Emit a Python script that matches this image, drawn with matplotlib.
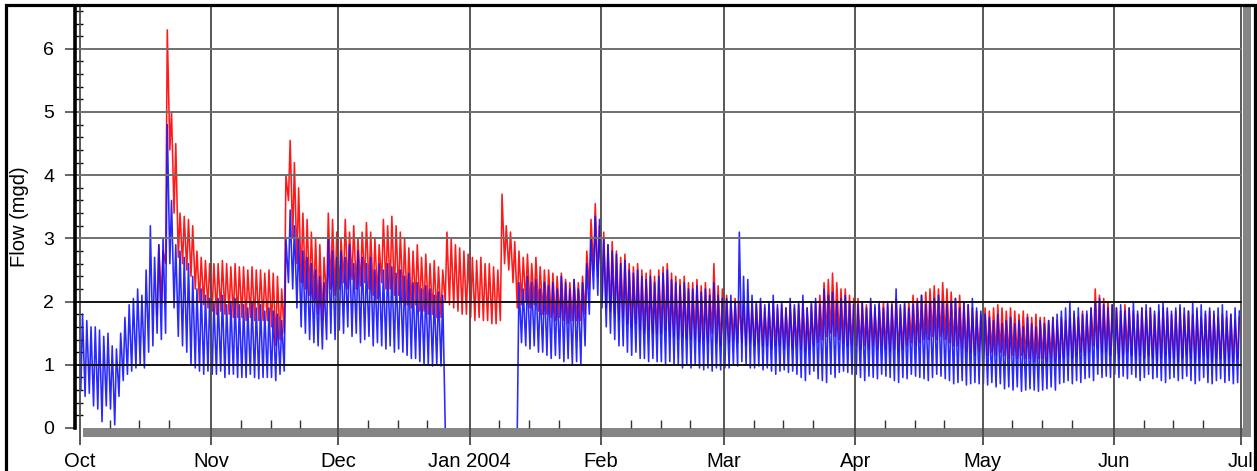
import numpy as np
import matplotlib
matplotlib.use("Agg")
import matplotlib.pyplot as plt
from matplotlib.patches import Rectangle
from matplotlib.ticker import MultipleLocator, FixedLocator

nan = np.nan

# ---------------- data (daily low / high of the hourly flow, mgd) ----------------
month_labels = ["Oct", "Nov", "Dec", "Jan 2004", "Feb", "Mar", "Apr", "May", "Jun", "Jul"]
month_lengths = [31, 30, 31, 31, 29, 31, 30, 31, 30]
minor_tick_days = [8, 15, 22]
y_ticks = [0, 1, 2, 3, 4, 5, 6]

# blue series
blue_high_oct = [1.8, 1.7, 1.6, 1.6, 1.55, 1.45, 1.5, 1.3, 1.25, 1.5, 1.75, 1.95, 2.05, 2.2, 2.1, 2.5,
                 3.2, 2.7, 2.9, 3.0, 4.8, 3.6, 2.9, 2.8, 2.7, 2.6, 2.4, 2.2, 2.2, 2.1, 2.05]
blue_low_oct = [0.6, 0.5, 0.55, 0.35, 0.3, 0.1, 0.35, 0.3, 0.05, 0.5, 0.75, 0.85, 0.9, 0.95, 1.0, 0.95,
                1.2, 1.3, 1.5, 1.4, 1.5, 2.6, 1.9, 1.45, 1.3, 1.2, 1.0, 0.95, 0.9, 0.85, 0.9]
blue_high_nov = [2.0, 2.05, 2.1, 1.95, 2.0, 2.05, 1.95, 1.95, 1.9, 2.0, 1.9, 1.95, 1.85, 1.9, 1.85, 1.8,
                 1.7, 3.0, 3.45, 3.2, 3.0, 2.8, 2.7, 2.6, 2.5, 2.4, 2.3, 3.0, 2.8, 2.7]
blue_low_nov = [0.85, 0.85, 0.9, 0.8, 0.85, 0.85, 0.8, 0.8, 0.8, 0.85, 0.8, 0.78, 0.8, 0.8, 0.8, 0.75,
                0.85, 0.9, 2.3, 2.2, 1.9, 1.6, 1.5, 1.4, 1.35, 1.3, 1.25, 1.4, 1.5, 1.4]
blue_high_dec = [2.8, 2.7, 2.9, 2.6, 2.8, 2.7, 2.6, 2.7, 2.5, 2.6, 2.5, 2.6, 2.55, 2.45, 2.5, 2.4,
                 2.45, 2.3, 2.3, 2.2, 2.25, 2.2, 2.1, 2.15, 2.1, nan, nan, nan, nan, nan, nan]
blue_low_dec = [1.55, 1.5, 1.6, 1.45, 1.5, 1.35, 1.4, 1.45, 1.3, 1.35, 1.3, 1.25, 1.3, 1.2, 1.25, 1.2,
                1.15, 1.1, 1.1, 1.05, 1.0, 1.0, 0.98, 1.0, 0.98, 0.0, nan, nan, nan, nan, nan]
blue_high_jan = [nan, nan, nan, nan, nan, nan, nan, nan, nan, nan, nan, 2.3, 2.2, 2.4, 2.3, 2.35,
                 2.2, 2.3, 2.25, 2.3, 2.2, 2.4, 2.3, 2.2, 2.35, 2.2, 2.3, 2.6, 3.0, 3.35, 3.3]
blue_low_jan = [nan, nan, nan, nan, nan, nan, nan, nan, nan, nan, nan, 0.0, 1.35, 1.3, 1.25, 1.3,
                1.2, 1.2, 1.15, 1.1, 1.15, 1.1, 1.05, 1.1, 1.0, 1.05, 1.0, 1.3, 1.8, 2.2, 2.1]
blue_high_feb = [3.0, 2.9, 2.8, 2.75, 2.6, 2.65, 2.5, 2.45, 2.5, 2.4, 2.35, 2.4, 2.3, 2.4, 2.45,
                 2.5, 2.35, 2.3, 2.25, 2.3, 2.2, 2.2, 2.25, 2.15, 2.2, 2.1, 2.3, 2.1, 2.05]
blue_low_feb = [1.9, 1.6, 1.5, 1.4, 1.3, 1.3, 1.2, 1.15, 1.2, 1.1, 1.1, 1.05, 1.1, 1.05, 1.05,
                1.0, 1.05, 1.0, 1.0, 0.95, 1.0, 0.95, 1.0, 0.95, 0.92, 0.95, 0.9, 0.95, 0.92]
blue_high_mar = [2.05, 2.1, 2.0, 3.1, 2.4, 2.35, 2.1, 2.0, 2.05, 1.95, 2.0, 2.1, 1.95, 2.0, 1.9, 2.05,
                 1.95, 2.0, 2.1, 1.9, 2.0, 2.05, 1.95, 2.2, 2.1, 2.15, 2.0, 2.05, 2.1, 2.0, 1.95]
blue_low_mar = [0.95, 0.95, 1.0, 0.98, 1.05, 1.0, 0.95, 0.95, 0.98, 0.92, 0.95, 0.9, 0.85, 0.9, 0.92,
                0.88, 0.9, 0.85, 0.8, 0.75, 0.85, 0.9, 0.78, 0.75, 0.72, 0.85, 0.8, 0.88, 0.9, 0.88, 0.85]
blue_high_apr = [1.95, 2.0, 1.9, 2.05, 1.95, 2.0, 1.9, 2.0, 1.95, 2.2, 1.95, 2.0, 1.9, 1.95, 2.0,
                 2.1, 1.95, 2.0, 2.05, 2.1, 2.0, 1.95, 2.0, 2.05, 1.9, 2.0, 1.95, 2.05, 1.9, 1.85]
blue_low_apr = [0.85, 0.8, 0.75, 0.82, 0.8, 0.78, 0.85, 0.82, 0.8, 0.75, 0.72, 0.8, 0.78, 0.85, 0.82,
                0.8, 0.78, 0.75, 0.8, 0.85, 0.82, 0.78, 0.75, 0.7, 0.72, 0.75, 0.68, 0.7, 0.72, 0.7]
blue_high_may = [1.8, 1.75, 1.7, 1.8, 1.65, 1.7, 1.75, 1.65, 1.7, 1.6, 1.75, 1.65, 1.6, 1.7, 1.65, 1.7,
                 1.75, 1.8, 1.85, 1.9, 2.0, 1.85, 1.9, 1.8, 1.85, 1.9, 2.0, 2.05, 1.95, 1.9, 1.95]
blue_low_may = [0.7, 0.68, 0.72, 0.65, 0.7, 0.62, 0.65, 0.6, 0.65, 0.58, 0.6, 0.62, 0.6, 0.58, 0.6,
                0.62, 0.65, 0.6, 0.7, 0.72, 0.75, 0.7, 0.75, 0.72, 0.78, 0.8, 0.75, 0.85, 0.8, 0.82, 0.8]
blue_high_jun = [1.9, 1.95, 1.85, 1.9, 2.0, 1.85, 1.9, 1.95, 1.9, 1.85, 1.95, 2.0, 1.9, 1.85, 1.9,
                 1.95, 1.9, 1.85, 2.0, 1.9, 1.95, 1.85, 1.9, 1.85, 1.9, 1.95, 1.85, 1.8, 1.9, 1.85]
blue_low_jun = [0.85, 0.8, 0.82, 0.78, 0.85, 0.8, 0.75, 0.8, 0.85, 0.78, 0.8, 0.75, 0.72, 0.78, 0.8,
                0.75, 0.78, 0.82, 0.75, 0.7, 0.75, 0.8, 0.72, 0.7, 0.75, 0.78, 0.72, 0.75, 0.7, 0.72]

# red series
red_high_oct = [nan] * 18 + [2.9, 2.8, 6.3, 5.0, 4.5, 3.4, 3.35, 3.3, 3.2, 2.8, 2.7, 2.65, 2.6]
red_low_oct = [nan] * 18 + [1.8, 2.0, 2.6, 4.4, 3.4, 2.7, 2.6, 2.5, 2.4, 2.2, 2.0, 1.95, 1.9]
red_high_nov = [2.6, 2.6, 2.65, 2.6, 2.55, 2.6, 2.55, 2.55, 2.5, 2.55, 2.5, 2.5, 2.45, 2.5, 2.45, 2.4,
                2.2, 4.0, 4.55, 4.2, 3.8, 3.4, 3.3, 3.1, 3.0, 2.9, 2.7, 3.4, 3.3, 3.1]
red_low_nov = [1.85, 1.8, 1.85, 1.8, 1.8, 1.75, 1.75, 1.75, 1.7, 1.75, 1.7, 1.7, 1.7, 1.7, 1.6, 1.3,
               1.4, 1.5, 3.6, 3.0, 2.6, 2.3, 2.2, 2.1, 2.0, 1.8, 1.7, 2.0, 2.2, 2.1]
red_high_dec = [3.0, 3.3, 3.1, 3.2, 3.0, 3.1, 3.25, 3.1, 3.0, 2.9, 3.3, 3.2, 3.35, 3.2, 3.1, 3.0,
                2.85, 2.8, 2.9, 2.7, 2.75, 2.6, 2.65, 2.55, 2.5, 3.1, 3.0, 2.9, 2.85, 2.8, 2.75]
red_low_dec = [2.2, 2.3, 2.2, 2.35, 2.2, 2.25, 2.3, 2.2, 2.1, 2.05, 2.3, 2.2, 2.2, 2.1, 2.1, 2.0,
               1.95, 1.9, 1.95, 1.85, 1.85, 1.8, 1.8, 1.75, 1.75, 2.0, 1.95, 1.9, 1.85, 1.8, 1.8]
red_high_jan = [2.7, 2.65, 2.7, 2.6, 2.6, 2.55, 2.5, 3.7, 3.2, 3.1, 2.95, 2.8, 2.7, 2.75, 2.6, 2.7,
                2.55, 2.5, 2.5, 2.45, 2.4, 2.45, 2.35, 2.3, 2.35, 2.3, 2.4, 2.8, 3.3, 3.55, 3.2]
red_low_jan = [1.75, 1.7, 1.75, 1.7, 1.7, 1.65, 1.65, 1.7, 2.6, 2.5, 2.3, 1.9, 1.95, 2.0, 1.9, 1.95,
               1.85, 1.8, 1.8, 1.75, 1.7, 1.75, 1.7, 1.65, 1.7, 1.7, 1.7, 1.8, 2.2, 2.5, 2.4]
red_high_feb = [3.1, 2.9, 2.95, 2.8, 2.7, 2.75, 2.6, 2.55, 2.6, 2.5, 2.45, 2.5, 2.4, 2.5, 2.55,
                2.6, 2.45, 2.4, 2.35, 2.4, 2.3, 2.3, 2.35, 2.25, 2.3, 2.2, 2.6, 2.25, 2.2]
red_low_feb = [2.0, 1.9, 1.85, 1.8, 1.7, 1.75, 1.65, 1.6, 1.65, 1.55, 1.5, 1.55, 1.5, 1.5, 1.5,
               1.55, 1.45, 1.45, 1.4, 1.45, 1.4, 1.4, 1.4, 1.35, 1.4, 1.35, 1.5, 1.35, 1.3]
red_high_mar = [2.1, 2.0, 2.05, 2.0, 1.95, 2.0, 1.95, 1.95, 2.0, 1.9, 1.95, 2.0, 1.9, 1.95, 1.9, 1.95,
                1.9, 1.95, 2.0, 1.9, 1.95, 2.0, 2.1, 2.3, 2.35, 2.45, 2.3, 2.2, 2.2, 2.1, 2.05]
red_low_mar = [1.4, 1.35, 1.4, 1.35, 1.35, 1.3, 1.35, 1.3, 1.35, 1.3, 1.3, 1.25, 1.3, 1.3, 1.25, 1.3,
               1.25, 1.3, 1.25, 1.2, 1.25, 1.3, 1.35, 1.4, 1.45, 1.5, 1.45, 1.4, 1.35, 1.3, 1.3]
red_high_apr = [2.05, 2.0, 1.95, 2.0, 1.9, 1.95, 2.0, 1.95, 2.0, 2.05, 1.9, 1.95, 2.0, 2.1, 2.05,
                2.1, 2.15, 2.2, 2.25, 2.2, 2.3, 2.2, 2.15, 2.05, 2.1, 2.0, 1.95, 1.9, 1.85, 1.8]
red_low_apr = [1.3, 1.25, 1.3, 1.25, 1.3, 1.25, 1.3, 1.25, 1.2, 1.25, 1.2, 1.25, 1.3, 1.35, 1.3,
               1.35, 1.4, 1.4, 1.45, 1.4, 1.45, 1.4, 1.35, 1.3, 1.3, 1.25, 1.2, 1.2, 1.15, 1.2]
red_high_may = [1.9, 1.85, 1.9, 1.95, 1.9, 1.85, 1.9, 1.85, 1.8, 1.85, 1.8, 1.75, 1.8, 1.75, 1.75, 1.7,
                1.75, 1.7, 1.75, 1.7, 1.75, 1.8, 1.75, 1.85, 1.8, 1.9, 2.2, 2.1, 2.05, 2.0, 1.95]
red_low_may = [1.2, 1.15, 1.2, 1.15, 1.2, 1.15, 1.1, 1.15, 1.1, 1.15, 1.1, 1.1, 1.05, 1.1, 1.1, 1.05,
               1.1, 1.05, 1.1, 1.1, 1.15, 1.1, 1.15, 1.2, 1.15, 1.2, 1.3, 1.25, 1.2, 1.2, 1.15]
red_high_jun = [1.9, 1.85, 1.95, 1.9, 1.85, 1.8, 1.9, 1.85, 1.9, 1.8, 1.85, 1.9, 1.85, 1.8, 1.85,
                1.9, 1.8, 1.85, 1.8, 1.85, 1.75, 1.8, 1.85, 1.8, 1.75, 1.8, 1.75, 1.8, 1.7, 1.75]
red_low_jun = [1.15, 1.1, 1.15, 1.2, 1.15, 1.1, 1.15, 1.1, 1.15, 1.1, 1.05, 1.1, 1.15, 1.1, 1.1,
               1.05, 1.1, 1.15, 1.1, 1.05, 1.1, 1.15, 1.1, 1.05, 1.1, 1.1, 1.05, 1.1, 1.05, 1.1]

blue_high = np.array(blue_high_oct + blue_high_nov + blue_high_dec + blue_high_jan + blue_high_feb
                     + blue_high_mar + blue_high_apr + blue_high_may + blue_high_jun)
blue_low = np.array(blue_low_oct + blue_low_nov + blue_low_dec + blue_low_jan + blue_low_feb
                    + blue_low_mar + blue_low_apr + blue_low_may + blue_low_jun)
red_high = np.array(red_high_oct + red_high_nov + red_high_dec + red_high_jan + red_high_feb
                    + red_high_mar + red_high_apr + red_high_may + red_high_jun)
red_low = np.array(red_low_oct + red_low_nov + red_low_dec + red_low_jan + red_low_feb
                   + red_low_mar + red_low_apr + red_low_may + red_low_jun)

days = np.arange(len(blue_high))
month_starts = np.concatenate([[0], np.cumsum(month_lengths)])
minor_pos = [s + d - 1 for s in month_starts[:-1] for d in minor_tick_days]


def daily_cycle(low, high):
    # morning low then midday high for every day
    t = np.column_stack([days + 0.2, days + 0.6]).ravel()
    v = np.column_stack([low, high]).ravel()
    return t, v


# ---------------- figure ----------------
W, H = 1257, 471
fig = plt.figure(figsize=(W / 100, H / 100), dpi=100)
fig.patch.set_facecolor("white")
plt.rcParams["font.family"] = ["Liberation Sans", "DejaVu Sans"]


def px(x0, y0, x1, y1):
    return [x0 / W, 1 - y1 / H, (x1 - x0) / W, (y1 - y0) / H]


ax = fig.add_axes(px(75, 6, 1242, 428))
ppd = (1241 - 80) / 274.0
ax.set_xlim(-5 / ppd, 274 + 1 / ppd)
ax.set_ylim(0, (428 - 6) / 63.2)

tr, vr = daily_cycle(red_low, red_high)
tb, vb = daily_cycle(blue_low, blue_high)
ax.plot(tr, vr, color="#ff1a1a", lw=1.15, zorder=2)
ax.plot(tb, vb, color="#1010ff", lw=1.15, alpha=0.9, zorder=2.1)

# grid lines drawn above the data
for m in month_starts:
    ax.axvline(m, color="#4a4a4a", lw=1.3, zorder=4)
for yv in y_ticks[1:]:
    col = "#111111" if yv <= 2 else "#6f6f6f"
    ax.axhline(yv, color=col, lw=1.4, zorder=4)

for s in ["top", "right", "bottom"]:
    ax.spines[s].set_visible(False)
ax.spines["left"].set_linewidth(2.6)
ax.spines["left"].set_color("black")
ax.spines["left"].set_zorder(5)

ax.xaxis.set_major_locator(FixedLocator(month_starts))
ax.set_xticklabels(month_labels)
ax.xaxis.set_minor_locator(FixedLocator(minor_pos))
ax.tick_params(axis="x", which="major", direction="out", length=12.5, width=1.3,
               color="#4a4a4a", pad=5.0, labelsize=14.5)
ax.tick_params(axis="x", which="minor", direction="in", length=6, width=1.0, color="#333333")

ax.yaxis.set_major_locator(FixedLocator(y_ticks))
ax.yaxis.set_minor_locator(MultipleLocator(0.2))
ax.tick_params(axis="y", which="major", direction="out", length=7, width=1.2,
               color="#4a4a4a", pad=8.0, labelsize=14)
ax.tick_params(axis="y", which="minor", direction="in", length=6, width=1.0, color="black")

fig.text(20 / W, 1 - 217 / H, "Flow (mgd)", rotation=90, ha="center", va="center", fontsize=14.5)

# gray shadow bars (bottom and right)
fig.add_artist(Rectangle((83 / W, 1 - 437 / H), (1251 - 83) / W, 9 / H, transform=fig.transFigure,
                         facecolor="#858585", edgecolor="none", zorder=-1))
fig.add_artist(Rectangle((1243 / W, 1 - 437 / H), 8 / W, (437 - 7) / H, transform=fig.transFigure,
                         facecolor="#858585", edgecolor="none", zorder=-1))
# outer black border
fig.add_artist(Rectangle((5.5 / W, -10 / H), (1254.5 - 5.5) / W, (H - 5.5 + 10) / H,
                         transform=fig.transFigure, facecolor="none", edgecolor="black",
                         lw=2.3, zorder=10))

fig.savefig("out.png", dpi=100, facecolor="white")
